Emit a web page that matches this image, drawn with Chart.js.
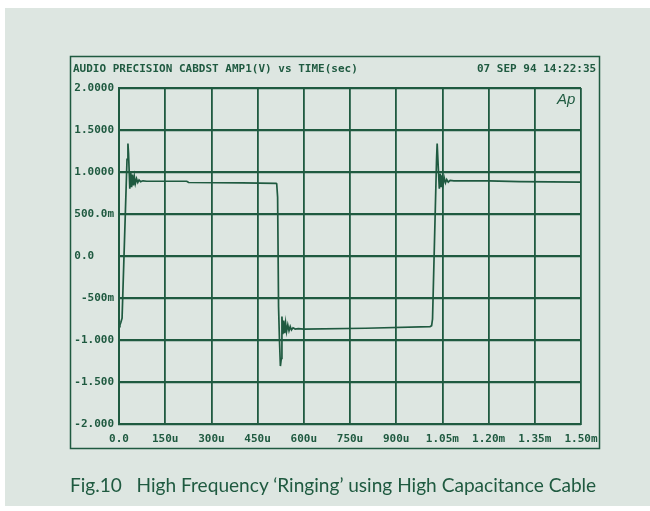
<!DOCTYPE html>
<html>
<head>
<meta charset="utf-8">
<script src="https://cdn.jsdelivr.net/npm/chart.js@4.4.0/dist/chart.umd.min.js"></script>
<style>
  html, body { margin: 0; padding: 0; background: #ffffff; }
  #wrap { position: relative; width: 650px; height: 511px; overflow: hidden; }
  #ourScope { position: absolute; left: 0; top: 0; }
  .mono { position: absolute; font-family: 'DejaVu Sans Mono', monospace; font-weight: bold; font-size: 11px; color: #1f5a40; white-space: pre; line-height: 13px; }
  #hdrLeft { left: 73px; top: 62px; }
  #hdrRight { left: 477px; top: 62px; }
  #apLogo { position: absolute; left: 557px; top: 90px; font-family: 'Liberation Sans', sans-serif; font-style: italic; font-size: 15px; color: #1f5a40; }
  #caption { position: absolute; left: 70px; top: 473px; font-family: Lato, sans-serif; font-size: 19.1px; color: #1f5a40; white-space: pre; }
</style>
</head>
<body>
<div id="wrap">
  <canvas id="ourScope" width="650" height="511"></canvas>
  <div id="hdrLeft" class="mono">AUDIO PRECISION CABDST AMP1(V) vs TIME(sec)</div>
  <div id="hdrRight" class="mono">07 SEP 94 14:22:35</div>
  <div id="apLogo">Ap</div>
  <div id="caption">Fig.10   High Frequency ‘Ringing’ using High Capacitance Cable</div>
</div>
<script>
// time in microseconds
let timeUs = [
    0, 3, 6, 10, 26, 29, 31, 35, 38, 41, 44, 47, 50, 53, 57, 61, 65, 70, 78, 90,
    220, 226, 400, 510,
    512, 515, 518, 521, 524, 527, 529, 532, 535, 538, 541, 544, 548, 552, 556, 560, 565, 572, 582, 600,
    800, 1010, 1015,
    1018, 1031, 1033, 1036, 1040, 1043, 1046, 1049, 1052, 1056, 1060, 1064, 1069, 1075, 1087, 1200, 1300, 1500
];
// amplifier output, volts
let volts = [
    -0.84, -0.82, -0.79, -0.74, 1.15, 1.34, 1.22, 0.80, 1.00, 0.82, 0.97, 0.84, 0.94, 0.86, 0.92, 0.875, 0.905, 0.885, 0.895, 0.89,
    0.89, 0.875, 0.87, 0.865,
    0.86, 0.70, -0.60, -1.00, -1.31, -1.22, -0.72, -0.93, -0.77, -0.92, -0.80, -0.90, -0.82, -0.89, -0.84, -0.88, -0.855, -0.87, -0.865, -0.87,
    -0.86, -0.84, -0.83,
    -0.75, 1.15, 1.34, 1.10, 0.80, 0.98, 0.82, 0.96, 0.85, 0.93, 0.87, 0.91, 0.88, 0.90, 0.895, 0.895, 0.885, 0.88
];

let xTickLabels = ['0.0', '150u', '300u', '450u', '600u', '750u', '900u', '1.05m', '1.20m', '1.35m', '1.50m'];
let yTickValues = [2, 1.5, 1, 0.5, 0, -0.5, -1, -1.5, -2];
// fixed-width fields, like the plotter prints them
let yTickLabels = ['2.0000', '1.5000', '1.0000', '500.0m', '0.0   ', '-500m', '-1.000', '-1.500', '-2.000'];

const ink = '#1f5a40';

const paperPlugin = {
    id: 'paper',
    beforeDraw(chart) {
        const ctx = chart.ctx;
        ctx.save();
        ctx.fillStyle = '#ffffff';
        ctx.fillRect(0, 0, 650, 511);
        ctx.fillStyle = '#dde6e1';
        ctx.fillRect(5, 8, 645, 498);
        ctx.strokeStyle = ink;
        ctx.lineWidth = 1.5;
        ctx.strokeRect(70.5, 56.5, 529, 392);
        ctx.restore();
    }
};

let points = timeUs.map((t, i) => ({x: t, y: volts[i]}));

new Chart(document.getElementById('ourScope'), {
    type: 'line',
    data: {
        datasets: [
            {
                label: 'AMP1(V)',
                data: points,
                borderColor: ink,
                borderWidth: 1.7,
                pointRadius: 0,
                tension: 0,
                fill: false
            }
        ]
    },
    options: {
        responsive: false,
        animation: false,
        layout: {
            padding: {left: 0, top: 88, right: 69, bottom: 0}
        },
        plugins: {
            legend: {display: false},
            tooltip: {enabled: false}
        },
        scales: {
            x: {
                type: 'linear',
                min: 0,
                max: 1500,
                afterFit: (scale) => { scale.height = 87; },
                afterBuildTicks: (scale) => {
                    scale.ticks = xTickLabels.map((_, i) => ({value: i * 150}));
                },
                ticks: {
                    padding: 9,
                    maxRotation: 0,
                    autoSkip: false,
                    color: ink,
                    font: {family: 'DejaVu Sans Mono', weight: 'bold', size: 11},
                    callback: (v, i) => xTickLabels[i]
                },
                grid: {color: ink, lineWidth: 1.8, drawTicks: false},
                border: {color: ink, width: 2}
            },
            y: {
                min: -2,
                max: 2,
                afterFit: (scale) => { scale.width = 119; },
                afterBuildTicks: (scale) => {
                    scale.ticks = yTickValues.slice().reverse().map(v => ({value: v}));
                },
                ticks: {
                    padding: 5,
                    autoSkip: false,
                    color: ink,
                    font: {family: 'DejaVu Sans Mono', weight: 'bold', size: 11},
                    callback: (v) => yTickLabels[yTickValues.indexOf(v)]
                },
                grid: {color: ink, lineWidth: 2.2, drawTicks: false},
                border: {color: ink, width: 2}
            }
        }
    },
    plugins: [paperPlugin]
});
</script>
</body>
</html>
